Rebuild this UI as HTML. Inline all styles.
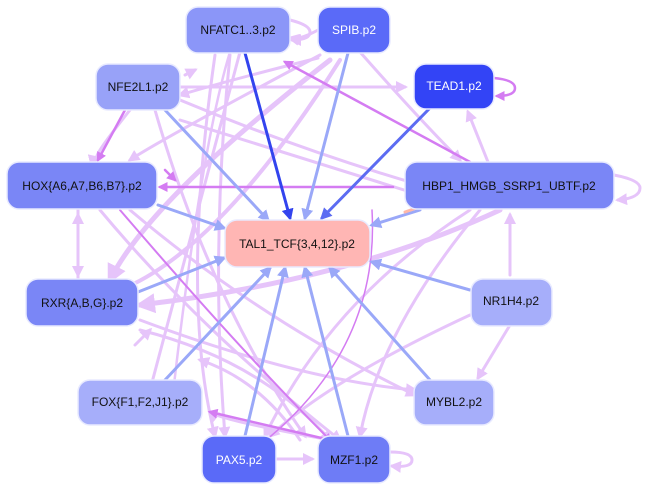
<!DOCTYPE html>
<html><head><meta charset="utf-8"><style>
html,body{margin:0;padding:0;background:#fff;}
svg{display:block;font-family:"Liberation Sans",sans-serif;}
</style></head><body>
<svg width="648" height="489" viewBox="0 0 648 489" xmlns="http://www.w3.org/2000/svg">
<defs>
<marker id="al" markerWidth="4" markerHeight="4" refX="3" refY="2" orient="auto" markerUnits="strokeWidth"><path d="M0,0 L4,2 L0,4z" fill="#e6c4fa"/></marker>
<marker id="ap" markerWidth="4" markerHeight="4" refX="3" refY="2" orient="auto" markerUnits="strokeWidth"><path d="M0,0 L4,2 L0,4z" fill="#d47cf2"/></marker>
<marker id="ab" markerWidth="4" markerHeight="4" refX="3" refY="2" orient="auto" markerUnits="strokeWidth"><path d="M0,0 L4,2 L0,4z" fill="#9aa8f8"/></marker>
<marker id="ad" markerWidth="4" markerHeight="4" refX="3" refY="2" orient="auto" markerUnits="strokeWidth"><path d="M0,0 L4,2 L0,4z" fill="#3344ee"/></marker>
<marker id="am" markerWidth="4" markerHeight="4" refX="3" refY="2" orient="auto" markerUnits="strokeWidth"><path d="M0,0 L4,2 L0,4z" fill="#5c6cf2"/></marker>
</defs>
<g fill="none" stroke-linecap="round">
<!-- light pink edges -->
<g stroke="#e6c4fa" stroke-width="3" marker-end="url(#al)">
<path d="M180,87 L405,87"/>
<path d="M318,30 Q300,40 290,38"/>
<path d="M318,58 Q230,80 180,95"/>
<path d="M185,75 L195,70"/>
<path d="M180,120 L420,195"/>
<path d="M180,100 Q300,150 420,185"/>
<path d="M360,52 Q420,120 460,160"/>
<path d="M488,162 L468,112"/>
<path d="M240,52 Q200,200 150,390"/>
<path d="M230,52 Q200,150 170,420" stroke-width="2.5"/>
<path d="M155,110 Q210,300 305,436"/>
<path d="M130,110 Q90,160 98,158"/>
<path d="M330,60 Q150,200 110,280" stroke-width="5"/>
<path d="M340,60 Q220,250 120,290" stroke-width="4"/>
<path d="M320,55 Q160,140 130,160"/>
<path d="M78,210 L78,275"/>
<path d="M78,280 L78,215"/>
<path d="M100,210 Q200,330 340,440"/>
<path d="M130,210 Q260,320 415,395"/>
<path d="M140,320 Q300,380 415,390"/>
<path d="M140,330 Q260,360 330,440"/>
<path d="M135,345 L150,330"/>
<path d="M500,210 Q350,280 140,305" stroke-width="5"/>
<path d="M470,210 Q330,300 265,436"/>
<path d="M480,210 Q380,330 360,436"/>
<path d="M510,275 L510,215"/>
<path d="M510,325 L478,378"/>
<path d="M470,315 Q330,380 270,436"/>
<path d="M276,459 L312,459"/>
<path d="M330,440 Q220,420 210,412"/>
<path d="M300,440 Q260,380 200,360"/>
<path d="M390,452 Q412,452 412,460 Q412,468 392,466"/>
<path d="M290,20 Q310,25 310,32 Q310,40 292,40"/>
<path d="M614,175 Q640,180 640,188 Q640,198 618,200"/>
<path d="M230,55 Q210,250 225,436"/>
<path d="M215,55 Q180,300 215,436"/>
</g>
<!-- purple edges -->
<g stroke="#d47cf2" stroke-width="2.5" marker-end="url(#ap)">
<path d="M125,110 L98,160"/>
<path d="M393,187 L160,187"/>
<path d="M470,162 L285,62"/>
<path d="M494,78 Q515,80 515,88 Q515,96 497,96"/>
<path d="M372,210 Q380,350 260,445" stroke-width="1.5"/>
<path d="M330,440 L210,412"/>
<path d="M120,210 Q240,350 330,440" stroke-width="2"/>
<path d="M165,170 L175,180"/>
</g>
<!-- blue edges -->
<g stroke="#9aa8f8" stroke-width="3" marker-end="url(#ab)">
<path d="M348,53 L305,218"/>
<path d="M165,110 L268,220"/>
<path d="M158,205 L224,228"/>
<path d="M138,292 L224,258"/>
<path d="M470,290 L372,262"/>
<path d="M165,380 L270,268"/>
<path d="M245,436 L285,268"/>
<path d="M348,436 L305,268"/>
<path d="M430,380 L330,268"/>
</g>
<path d="M245,53 L290,218" stroke="#3344ee" stroke-width="3" marker-end="url(#ad)"/>
<path d="M430,108 L322,218" stroke="#5c6cf2" stroke-width="3" marker-end="url(#am)"/>
<path d="M420,210 L372,225" stroke="#9aa8f8" stroke-width="3" marker-end="url(#ab)"/>
<path d="M425,205 L405,212" stroke="#ffb8a8" stroke-width="3"/>
</g>
<!-- nodes -->
<g stroke="#e8eaff" stroke-width="1.5">
<rect x="186" y="7" width="104" height="46" rx="12" fill="#8b96f8"/>
<rect x="318" y="7" width="72" height="46" rx="12" fill="#5a6af8"/>
<rect x="96" y="64" width="84" height="46" rx="12" fill="#98a2f8"/>
<rect x="414" y="64" width="80" height="45" rx="12" fill="#3344f6"/>
<rect x="7" y="162" width="150" height="47" rx="12" fill="#7a86f6"/>
<rect x="405" y="162" width="209" height="47" rx="12" fill="#7a86f6"/>
<rect x="225" y="220" width="145" height="47" rx="12" fill="#ffb6b4"/>
<rect x="26" y="279" width="112" height="47" rx="12" fill="#7a86f6"/>
<rect x="471" y="279" width="81" height="47" rx="12" fill="#a6aefa"/>
<rect x="78" y="380" width="124" height="45" rx="12" fill="#a6aefa"/>
<rect x="414" y="380" width="80" height="45" rx="12" fill="#a6aefa"/>
<rect x="202" y="436" width="74" height="47" rx="12" fill="#5a6af8"/>
<rect x="318" y="436" width="72" height="47" rx="12" fill="#6e7cf6"/>
</g>
<g font-size="12" text-anchor="middle" fill="#111">
<text x="238" y="34">NFATC1..3.p2</text>
<text x="354" y="34" fill="#fff">SPIB.p2</text>
<text x="138" y="91">NFE2L1.p2</text>
<text x="454" y="90" fill="#fff">TEAD1.p2</text>
<text x="82" y="190">HOX{A6,A7,B6,B7}.p2</text>
<text x="509" y="190">HBP1_HMGB_SSRP1_UBTF.p2</text>
<text x="297" y="248">TAL1_TCF{3,4,12}.p2</text>
<text x="82" y="307">RXR{A,B,G}.p2</text>
<text x="511" y="305">NR1H4.p2</text>
<text x="140" y="406">FOX{F1,F2,J1}.p2</text>
<text x="454" y="406">MYBL2.p2</text>
<text x="239" y="464" fill="#fff">PAX5.p2</text>
<text x="354" y="464">MZF1.p2</text>
</g>
</svg>
</body></html>
